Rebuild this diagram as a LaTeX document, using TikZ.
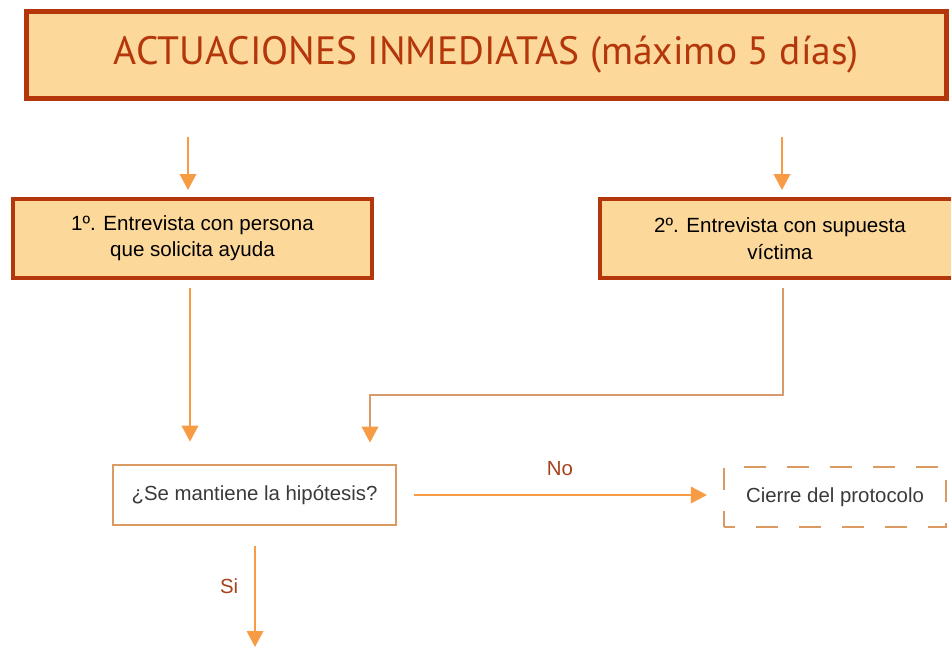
\documentclass[tikz,border=0pt]{standalone}
\usepackage{fontspec}
\setmainfont{Liberation Sans}
\newfontfamily\titlefont{PT Sans}
\usetikzlibrary{arrows.meta, positioning, calc}

\definecolor{boxfill}{HTML}{FDD89B}
\definecolor{boxline}{HTML}{B3370B}
\definecolor{arrowc}{HTML}{F79C45}
\definecolor{bendc}{HTML}{D69A6C}
\definecolor{decline}{HTML}{DA9A62}
\definecolor{labelc}{HTML}{A8401A}
\definecolor{textc}{HTML}{3A3A3A}

\begin{document}
\begin{tikzpicture}[x=0.02cm, y=-0.02cm,
    titlebox/.style={rectangle, draw=boxline, line width=0.9mm, fill=boxfill,
                     minimum width=18.4cm, minimum height=1.74cm, text=boxline,
                     font=\titlefont\fontsize{22.5}{26}\selectfont},
    stagebox/.style={rectangle, draw=boxline, line width=0.8mm, fill=boxfill,
                     minimum width=7.2cm, minimum height=1.6cm, align=center,
                     font=\fontsize{11.7}{15}\selectfont},
    askbox/.style={rectangle, draw=decline, line width=0.35mm, fill=white,
                   minimum width=5.66cm, minimum height=1.2cm, text=textc,
                   font=\fontsize{11.6}{14}\selectfont},
    endbox/.style={rectangle, draw=decline, line width=0.45mm,
                   dash pattern=on 4.4mm off 4.2mm, dash phase=2.2mm,
                   minimum width=4.44cm, minimum height=1.2cm, text=textc,
                   font=\fontsize{11.6}{14}\selectfont},
    arrow/.style={-{Triangle[width=3.3mm,length=3.2mm]}, line width=0.4mm, arrowc},
    bendarrow/.style={arrow, draw=bendc, -{Triangle[width=3.3mm,length=3.2mm,fill=arrowc,color=arrowc]}},
    lbl/.style={text=labelc, font=\fontsize{11.6}{14}\selectfont}]

    \useasboundingbox (0,0) rectangle (951,648);

    % Title and the two interviews
    \node[titlebox] (title) at (486.5,55) {ACTUACIONES INMEDIATAS (máximo 5 días)};
    \node[stagebox] (first) at (192.5,238.5) {1º. Entrevista con persona\\que solicita ayuda};
    \node[stagebox] (second) at (780,238.5) {2º. Entrevista con supuesta\\víctima};

    % Decision and end of protocol
    \node[askbox] (ask) at (254.5,495) {¿Se mantiene la hipótesis?};
    \node[endbox] (close) at (835,497) {Cierre del protocolo};

    \coordinate (in1) at (188,137);
    \coordinate (in2) at (782,137);
    \coordinate (bend) at (370,395);
    \coordinate (yes) at (255,647);

    % Arrows
    \draw[arrow, shorten >=1.3mm] (in1) -- (in1 |- first.north);
    \draw[arrow, shorten >=1.3mm] (in2) -- (in2 |- second.north);
    \draw[arrow, shorten <=1.5mm, shorten >=4.5mm] ([xshift=-0.05cm]first.south) -- ([xshift=-0.05cm]first.south |- ask.north);
    \draw[bendarrow, shorten <=1.5mm, shorten >=4.3mm] ([xshift=0.06cm]second.south) |- (bend) -- (bend |- ask.north);
    \draw[arrow, shorten <=3.4mm, shorten >=3.2mm] (ask.east) -- (ask.east -| close.west)
        node[midway, above=0.24cm, lbl] {No};
    \draw[arrow, shorten <=4mm] (ask.south -| yes) -- (yes)
        node[midway, left=0.2cm, lbl] {Si};

\end{tikzpicture}
\end{document}
